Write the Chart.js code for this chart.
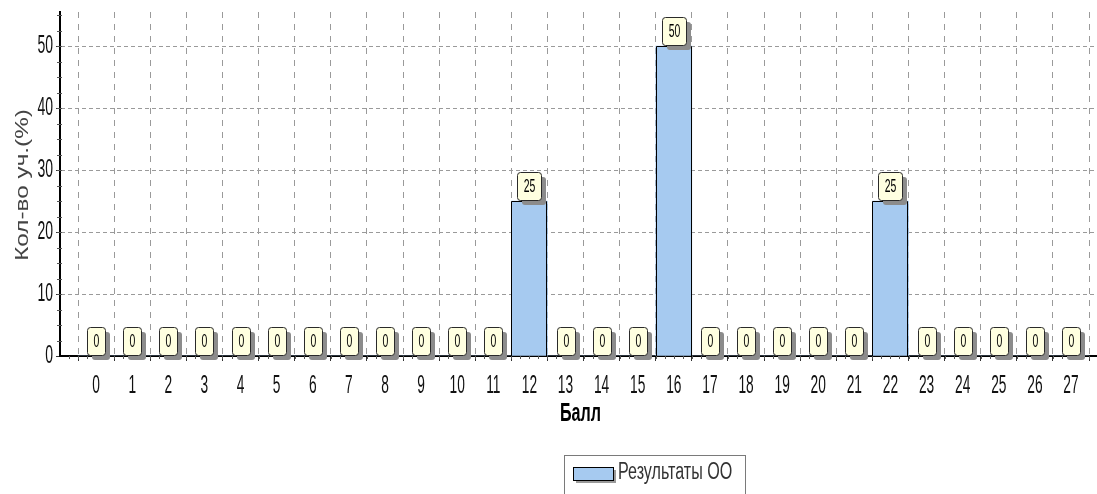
<!DOCTYPE html>
<html>
<head>
<meta charset="utf-8">
<script src="https://cdn.jsdelivr.net/npm/chart.js@4/dist/chart.umd.min.js"></script>
<style>
  html, body { margin: 0; padding: 0; background: #ffffff; }
  #wrap { width: 1097px; height: 494px; position: relative; }
</style>
</head>
<body>
<div id="wrap"><canvas id="c"></canvas></div>
<script>
const categories = [0,1,2,3,4,5,6,7,8,9,10,11,12,13,14,15,16,17,18,19,20,21,22,23,24,25,26,27];
const values = [0,0,0,0,0,0,0,0,0,0,0,0,25,0,0,0,50,0,0,0,0,0,25,0,0,0,0,0];
const yTicks = [0,10,20,30,40,50];
const seriesLabel = 'Результаты ОО';
const xTitle = 'Балл';
const yTitle = 'Кол-во уч.(%)';

const SANS = '"Liberation Sans", Arial, sans-serif';
const BAR_FILL = '#A6CAF0';

// draw horizontally scaled text (imitates the reference typefaces)
function narrowText(ctx, txt, x, y, size, sx, align, weight, color, rot) {
  ctx.save();
  ctx.font = (weight || 'normal') + ' ' + size + 'px ' + SANS;
  ctx.fillStyle = color || '#000';
  ctx.textBaseline = 'middle';
  ctx.textAlign = align || 'center';
  ctx.translate(x, y);
  if (rot) ctx.rotate(rot);
  ctx.scale(sx, 1);
  ctx.fillText(txt, 0, 0);
  ctx.restore();
}

const resetDash = {
  id: 'resetDash',
  beforeDatasetsDraw(chart) { chart.ctx.setLineDash([]); }
};

const decorPlugin = {
  id: 'decor',
  afterDatasetsDraw(chart) {
    const ctx = chart.ctx;
    const xs = chart.scales.x, ys = chart.scales.y;
    const meta = chart.getDatasetMeta(0);
    ctx.save();
    ctx.setLineDash([]);
    // crisp bar outlines
    ctx.strokeStyle = '#000'; ctx.lineWidth = 1;
    meta.data.forEach((bar, i) => {
      if (values[i] <= 0) return;
      const l = Math.round(bar.x - bar.width / 2) + 0.5;
      const r = Math.round(bar.x + bar.width / 2) - 0.5;
      const t = Math.round(bar.y) + 0.5;
      const b = Math.round(bar.base);
      ctx.beginPath();
      ctx.moveTo(l, b); ctx.lineTo(l, t); ctx.lineTo(r, t); ctx.lineTo(r, b);
      ctx.stroke();
    });
    // minor ticks
    ctx.strokeStyle = '#555'; ctx.lineWidth = 1;
    for (let v = 2.5; v < ys.max; v += 2.5) {
      const py = Math.round(ys.getPixelForValue(v)) + 0.5;
      ctx.beginPath(); ctx.moveTo(xs.left - 3, py); ctx.lineTo(xs.left + 2, py); ctx.stroke();
    }
    for (let v = -0.75; v < xs.max; v += 0.25) {
      const px = Math.round(xs.getPixelForValue(v)) + 0.5;
      ctx.beginPath(); ctx.moveTo(px, ys.bottom); ctx.lineTo(px, ys.bottom + 3); ctx.stroke();
    }
    // value boxes
    meta.data.forEach((bar, i) => {
      const txt = String(values[i]);
      ctx.font = '19px ' + SANS;
      const tw = ctx.measureText(txt).width * 0.55;
      const w = Math.round(tw + 12), h = 28;
      const x = Math.round(bar.x - w / 2), y = Math.round(bar.y - h) - 1;
      ctx.fillStyle = '#8c8c8c';
      ctx.beginPath(); ctx.roundRect(x + 5, y + 5, w, h, 3); ctx.fill();
      ctx.fillStyle = '#FFFFE0';
      ctx.strokeStyle = '#2a2a2a';
      ctx.beginPath(); ctx.roundRect(x + 0.5, y + 0.5, w, h, 3); ctx.fill(); ctx.stroke();
      narrowText(ctx, txt, x + 0.5 + w / 2, y + h / 2 + 1, 19, 0.55, 'center', 'normal', '#000');
    });
    ctx.restore();
  },
  afterDraw(chart) {
    const ctx = chart.ctx;
    const xs = chart.scales.x, ys = chart.scales.y;
    // x tick labels
    categories.forEach(c => {
      narrowText(ctx, String(c), xs.getPixelForValue(c), ys.bottom + 30, 25, 0.55, 'center', 'normal', '#111');
    });
    // y tick labels
    yTicks.forEach(t => {
      narrowText(ctx, String(t), xs.left - 7, ys.getPixelForValue(t), 25, 0.56, 'right', 'normal', '#111');
    });
    // y title (wide face)
    narrowText(ctx, yTitle, 23, (ys.top + ys.bottom) / 2 + 1, 18, 1.35, 'center', 'normal', '#444', -Math.PI / 2);
    // x title
    narrowText(ctx, xTitle, (xs.left + xs.right) / 2 + 2, ys.bottom + 58, 26, 0.62, 'center', 'bold', '#000');
    // legend
    ctx.save();
    ctx.setLineDash([]);
    ctx.strokeStyle = '#7a7a7a'; ctx.lineWidth = 1;
    ctx.strokeRect(564.5, 455.5, 181, 45);
    ctx.fillStyle = '#9a9a9a';
    ctx.fillRect(576, 470, 40, 13);
    ctx.fillStyle = BAR_FILL; ctx.strokeStyle = '#000';
    ctx.fillRect(573, 467, 40, 13);
    ctx.strokeRect(573.5, 467.5, 40, 13);
    ctx.restore();
    narrowText(ctx, seriesLabel, 618, 473, 23, 0.7, 'left', 'normal', '#333');
  }
};

new Chart(document.getElementById('c'), {
  type: 'bar',
  data: {
    datasets: [{
      label: seriesLabel,
      data: categories.map((c, i) => ({ x: c, y: values[i] })),
      backgroundColor: BAR_FILL,
      borderWidth: 0,
      barThickness: 36
    }]
  },
  options: {
    responsive: true,
    maintainAspectRatio: false,
    animation: false,
    layout: { padding: { top: 12, left: 0, right: 0, bottom: 0 } },
    plugins: { legend: { display: false }, tooltip: { enabled: false } },
    scales: {
      x: {
        type: 'linear',
        min: -1,
        max: 27.72,
        offset: false,
        afterBuildTicks(scale) {
          scale.ticks = categories.map(v => ({ value: v }));
        },
        afterFit(scale) { scale.height = 138; },
        ticks: {
          autoSkip: false,
          maxRotation: 0,
          color: 'rgba(0,0,0,0)',
          font: { size: 12 },
          callback: (v) => String(v)
        },
        grid: {
          color: '#9a9a9a',
          lineWidth: 1,
          tickLength: 5,
          tickColor: '#333',
          tickBorderDash: [],
          tickWidth: 1
        },
        border: { display: true, color: '#000', width: 2, dash: [6, 6] },
        title: { display: false, text: xTitle }
      },
      y: {
        min: 0,
        max: 55.5,
        afterBuildTicks(scale) {
          scale.ticks = yTicks.map(v => ({ value: v }));
        },
        afterFit(scale) { scale.width = 60; },
        ticks: {
          color: 'rgba(0,0,0,0)',
          font: { size: 12 },
          callback: (v) => String(v)
        },
        grid: {
          color: (c) => c.tick && c.tick.value === 0 ? 'rgba(0,0,0,0)' : '#9a9a9a',
          lineWidth: 1,
          tickLength: 4,
          tickColor: '#333',
          tickBorderDash: [],
          tickWidth: 1
        },
        border: { display: true, color: '#000', width: 2, dash: [4, 3] },
        title: { display: false, text: yTitle }
      }
    }
  },
  plugins: [resetDash, decorPlugin]
});
</script>
</body>
</html>
